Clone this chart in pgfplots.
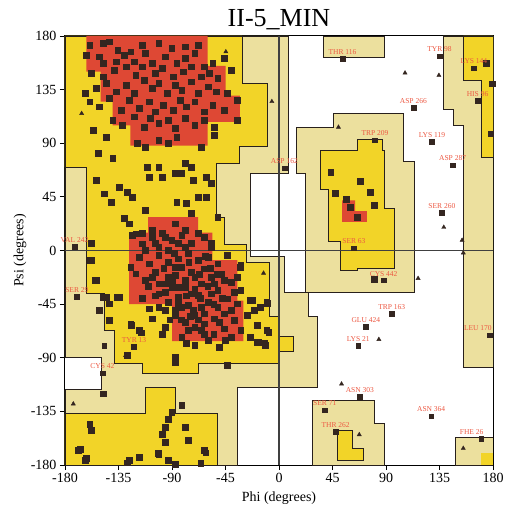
\documentclass[border=0pt]{standalone}
\usepackage{fontspec}
\setmainfont{Liberation Serif}
\usepackage{pgfplots}
\pgfplotsset{compat=1.18}
\definecolor{rcore}{RGB}{222,72,52}
\definecolor{ryel}{RGB}{242,212,40}
\definecolor{rtan}{RGB}{236,224,158}
\definecolor{dot}{RGB}{52,38,32}
\definecolor{lab}{RGB}{236,88,66}
\definecolor{edge}{RGB}{40,32,28}
\begin{document}
\begin{tikzpicture}
\path[use as bounding box, clip] (-65pt,-46pt) rectangle (442pt,465pt);
\begin{axis}[
  at={(0,0)}, anchor=south west,
  scale only axis, width=428pt, height=429pt,
  xmin=-180, xmax=180, ymin=-180, ymax=180,
  xtick={-180,-135,...,180}, ytick={-180,-135,...,180},
  tick align=outside, xtick pos=left, ytick pos=left,
  major tick length=5pt,
  tick style={black, line width=0.8pt},
  ticklabel style={font=\fontsize{14}{14}\selectfont},
  /pgf/number format/assume math mode=true,
  axis line style={black, line width=1pt},
  title={\fontsize{26}{28}\selectfont II-5\_MIN},
  title style={at={(axis description cs:0.5,1.007)}, anchor=base},
  xlabel={Phi (degrees)},
  ylabel={Psi (degrees)},
  label style={font=\fontsize{14}{14}\selectfont},
  xlabel style={at={(axis description cs:0.5,-0.077)}, anchor=center},
  ylabel style={at={(axis description cs:-0.105,0.5)}, anchor=center},
  clip=true,
]
% ---- generously allowed (tan) regions
\addplot[fill=rtan, draw=edge, line width=0.9pt] coordinates {
 (-180,180) (8,180) (8,65) (-24,65) (-24,-5) (5,-5) (5,-35) (25,-35) (25,-55) (32,-55)
 (32,-115) (-35,-115) (-35,-180) (-180,-180) (-180,-117) (-149,-117) (-149,-90) (-180,-90)} -- cycle;
\addplot[fill=rtan, draw=edge, line width=0.9pt] coordinates {
 (15,103) (46,103) (46,115) (105,115) (105,75) (114,75) (114,-35) (22,-35) (22,65) (15,65)} -- cycle;
\addplot[fill=rtan, draw=edge, line width=0.9pt] coordinates {
 (37,180) (89,180) (89,162) (37,162)} -- cycle;
\addplot[fill=rtan, draw=edge, line width=0.9pt] coordinates {
 (138,180) (180,180) (180,-98) (155,-98) (155,105) (147,105) (147,118) (138,118)} -- cycle;
\addplot[fill=rtan, draw=edge, line width=0.9pt] coordinates {
 (148,-157) (180,-157) (180,-180) (148,-180)} -- cycle;
\addplot[fill=rtan, draw=edge, line width=0.9pt] coordinates {
 (28,-126) (80,-126) (80,-145) (89,-145) (89,-180) (28,-180)} -- cycle;
% ---- allowed (yellow) regions
\addplot[fill=ryel, draw=edge, line width=0.9pt] coordinates {
 (-180,180) (-31,180) (-31,140) (-10,140) (-10,87) (-33,87) (-33,73) (-53,73) (-53,28) (-46,28)
 (-46,5) (-27,5) (-27,-10) (-8,-10) (-8,-55) (0,-55) (0,-72) (12,-72) (12,-85) (0,-85) (0,-95)
 (-68,-95) (-68,-103) (-115,-103) (-115,-95) (-138,-95) (-138,-67) (-147,-67) (-147,-36)
 (-162,-36) (-162,70) (-180,70)} -- cycle;
\addplot[fill=ryel, draw=edge, line width=0.9pt] coordinates {
 (-180,-137) (-112,-137) (-112,-115) (-87,-115) (-87,-137) (-52,-137) (-52,-180) (-180,-180)} -- cycle;
\addplot[fill=ryel, draw=edge, line width=0.9pt] coordinates {
 (66,93) (87,93) (87,84) (89,84) (89,35) (97,35) (97,-15) (66,-15) (66,-17) (52,-17) (52,8)
 (42,8) (42,51) (35,51) (35,84) (66,84)} -- cycle;
\addplot[fill=ryel, draw=edge, line width=0.9pt] coordinates {
 (155,180) (180,180) (180,78) (170,78) (170,143) (155,143)} -- cycle;
\addplot[fill=ryel, draw=edge, line width=0.9pt] coordinates {
 (49,-151) (62,-151) (62,-166) (71,-166) (71,-176) (49,-176)} -- cycle;
\addplot[fill=ryel, draw=none] coordinates {
 (170,-170) (180,-170) (180,-180) (170,-180)} -- cycle;
% ---- core (red) regions
\addplot[fill=rcore, draw=none] coordinates {
 (-162,180) (-60,180) (-60,155) (-45,155) (-45,130) (-33,130) (-33,108) (-60,108) (-60,88)
 (-125,88) (-125,105) (-140,105) (-140,125) (-150,125) (-150,150) (-162,150)} -- cycle;
\addplot[fill=rcore, draw=none] coordinates {
 (-110,28) (-68,28) (-68,15) (-56,15) (-56,-8) (-35,-8) (-35,-42) (-30,-42) (-30,-76) (-90,-76)
 (-90,-45) (-126,-45) (-126,15) (-110,15)} -- cycle;
\addplot[fill=rcore, draw=none] coordinates {
 (53,42) (64,42) (64,33) (74,33) (74,24) (53,24)} -- cycle;
% ---- zero lines
\addplot[draw=black!75, line width=1.2pt] coordinates {(-180,0) (180,0)};
\addplot[draw=black!75, line width=1.2pt] coordinates {(0,-180) (0,180)};
% ---- residues (squares)
\addplot[only marks, mark=square*, mark size=2.9pt, color=dot] coordinates {
(-159.2,172.4) (-148.1,173.8) (-142.6,175.2) (-135.7,168.2) (-124.7,166.8) (-115.0,172.4)
(-101.2,173.8) (-90.2,169.6) (-79.2,171.0) (-68.1,172.4)
(-161.9,164.0) (-150.9,162.6) (-148.1,157.0) (-137.1,158.4) (-130.2,164.0) (-121.9,158.4)
(-112.3,165.4) (-106.7,157.0) (-95.7,162.6) (-86.1,157.0) (-79.2,161.2) (-70.9,165.4)
(-62.6,154.2) (-55.7,157.0) (-46.0,161.2)
(-157.8,148.6) (-148.1,145.8) (-138.5,151.4) (-128.8,154.2) (-120.5,147.2) (-115.0,154.2)
(-104.0,148.6) (-98.5,152.8) (-88.8,145.8) (-80.5,150.0) (-73.6,154.2) (-65.4,145.8)
(-58.5,148.6) (-51.6,144.4) (-40.5,151.4)
(-163.3,131.8) (-153.7,136.0) (-145.4,140.2) (-137.1,133.2) (-128.8,138.8) (-121.9,131.8)
(-113.6,143.0) (-106.7,136.0) (-101.2,140.2) (-94.3,131.8) (-87.4,138.8) (-81.9,134.6)
(-73.6,141.6) (-68.1,131.8) (-59.8,137.4) (-52.9,133.2) (-43.3,131.8) (-35.0,126.2)
(-159.2,124.8) (-150.9,120.6) (-142.6,127.6) (-133.0,117.8) (-126.1,126.2) (-117.8,119.2)
(-109.5,124.8) (-104.0,116.4) (-97.1,122.0) (-88.8,117.8) (-83.3,126.2) (-77.8,120.6)
(-70.9,124.8) (-62.6,116.4) (-55.7,122.0) (-46.0,117.8)
(-139.9,109.4) (-131.6,105.2) (-121.9,112.2) (-113.6,103.8) (-108.1,110.8) (-101.2,106.6)
(-93.0,109.4) (-87.4,102.4) (-79.2,110.8) (-70.9,105.2) (-62.6,109.4) (-54.3,103.8) (-35.0,109.4)
(-156.4,101.0) (-145.4,95.4) (-119.2,89.8) (-112.3,87.0) (-101.2,92.6) (-93.0,89.8)
(-86.1,95.4) (-65.4,87.0) (-54.3,96.8)
(-152.3,81.4) (-139.9,77.2) (-110.9,70.2) (-101.2,70.2) (-79.2,73.0) (-73.6,70.2)
(-153.7,59.0) (-134.3,53.4) (-109.5,61.8) (-98.5,61.8) (-87.4,64.6) (-81.9,64.6)
(-72.3,59.0) (-61.2,61.8) (-57.1,56.2)
(-146.8,47.7) (-141.2,40.7) (-127.4,49.1) (-123.3,45.0) (-112.3,33.7) (-86.1,40.7)
(-77.8,39.4) (-73.6,31.0) (-68.1,45.0) (-61.2,45.0) (-51.6,28.2)
(-130.2,26.8) (-126.1,22.5) (-120.5,14.1) (-115.0,5.7) (-106.7,16.9) (-95.7,11.3)
(-87.4,22.5) (-79.2,16.9) (-73.6,5.7) (-101.2,2.9) (-62.6,11.3) (-57.1,2.9)
(-123.3,12.8) (-115.0,14.2) (-106.7,11.4) (-98.5,14.2) (-90.2,8.6) (-81.9,12.8)
(-73.6,5.8) (-68.1,14.2) (-57.2,5.8) (-79.2,3.0) (-101.2,3.0)
(-157.8,-8.2) (-124.7,-13.8) (-117.8,-5.4) (-109.5,-11.0) (-101.2,-4.0) (-93.0,-9.6)
(-84.7,-6.8) (-76.5,-2.6) (-68.1,-8.2) (-59.8,-5.4) (-51.6,-11.0) (-43.3,-4.0) (-32.2,-12.4)
(-87.4,-13.8) (-62.6,-15.2)
(-120.5,-19.4) (-112.3,-25.0) (-104.0,-18.0) (-95.7,-27.8) (-87.4,-20.8) (-79.2,-25.0)
(-73.6,-18.0) (-65.4,-27.8) (-57.2,-22.2) (-48.8,-19.4) (-40.5,-26.4) (-79.2,-30.6)
(-70.9,-32.0) (-153.7,-25.0)
(-148.1,-39.0) (-134.3,-39.0) (-109.5,-48.8) (-101.2,-36.2) (-93.0,-43.2) (-84.7,-39.0)
(-76.5,-46.0) (-68.1,-37.6) (-59.8,-43.2) (-51.6,-47.4) (-43.3,-40.4) (-35.0,-44.6)
(-24.1,-41.8) (-15.8,-47.4) (-10.3,-43.2) (-142.6,-44.6)
(-142.6,-58.6) (-124.7,-61.4) (-117.8,-67.0) (-106.7,-57.2) (-95.7,-64.2) (-87.4,-54.4)
(-79.2,-60.0) (-70.9,-54.4) (-62.6,-61.4) (-54.3,-57.2) (-46.0,-65.6) (-37.8,-58.6)
(-26.8,-54.4) (-18.6,-62.8) (-10.3,-67.0) (-65.4,-67.0) (-32.2,-67.0)
(-81.9,-72.6) (-70.9,-79.6) (-59.8,-75.4) (-50.2,-81.0) (-40.5,-72.6) (-24.1,-72.6)
(-11.7,-79.6) (-127.4,-88.0) (-18.6,-76.8) (-87.4,-89.4) (-87.4,-93.6) (-43.3,-96.4)
(-148.1,-120.2)
(-90.2,-135.7) (-93.0,-141.3) (-81.9,-130.1) (-95.7,-148.3) (-79.2,-148.3) (-98.5,-153.9)
(-95.7,-160.9) (-76.5,-159.5) (-101.2,-170.7) (-62.6,-167.9) (-117.8,-173.5) (-126.1,-176.3)
(-93.0,-176.3) (-87.4,-179.1) (-167.5,-166.5) (-159.2,-145.5) (-157.8,-151.1) (-163.3,-176.3)
(-169.0,-167.9) (-162.0,-174.6) (-127.9,-178.0) (-101.4,-170.4) (-65.8,-178.8) (-61.7,-169.6)
(-90.2,-30.6) (-84.7,-30.6) (-73.6,-36.2) (-65.4,-47.4) (-57.2,-36.2) (-54.3,-27.8)
(-46.0,-53.0) (-81.9,-47.4) (-87.4,-50.2) (-95.7,-50.2) (-101.2,-47.4) (-70.9,-64.2)
(-76.5,-67.0) (-62.6,-53.0) (-51.6,-33.4) (-40.5,-50.2) (-32.2,-33.4) (-46.0,-25.0)
(-35.0,-22.2) (-70.9,-22.2) (-81.9,-13.8) (-93.0,-22.2) (-101.2,-27.8) (-106.7,-22.2)
(-112.3,0.2) (-104.0,5.8) (-93.0,0.2) (-84.7,5.8)
(-97,-15) (-90,-25) (-85,-45) (-78,-38) (-72,-50) (-66,-40) (-60,-30) (-55,-45) (-50,-60)
(-75,-55) (-68,-58) (-82,-58) (-92,-58) (-63,-70) (-55,-70) (-48,-40) (-58,-15) (-67,-20)
(-76,-10) (-88,-2) (-96,-35) (-104,-38) (-110,-30) (-115,-40) (-98,-70) (-78,-78) (-45,-75)
(-38,-35) (-62,-5) (-52,-20)
(-157.7,6) (-159,-8) (-155,-25) (-145,-39) (-136,-39) (-151,-50) (-124,-63) (-116,-69)
(-32.7,-14) (-22.8,-41.8) (-21,-50) (-10,-44) (-8.7,-68.7) (-12,-78) (-17,-77)
(43.5,65.7) (68,58) (47.6,48) (56.7,43) (76.6,49) (80,38) (60,36) (66,28) (80,-24)
(174,157) (179,140) (178,98)
};
% ---- glycines (triangles)
\addplot[only marks, mark=triangle*, mark size=2.4pt, color=dot] coordinates {
(106,149) (134.5,147) (117,-23.4) (154,8.6) (84,-74.6) (52.6,-112) (67.5,-154.5) (155,-166)
(138.6,19.5) (-44.7,166.8) (-6,125) (-166,115) (-13,-19) (-173,-128.7) (50,103.5) (-129,-88)
(155,-2)
};
% ---- labelled residues
\addplot[only marks, mark=square*, mark size=2.4pt, color=dot,
  nodes near coords, point meta=explicit symbolic,
  every node near coord/.style={font=\fontsize{7.5}{8}\selectfont, text=lab,
    anchor=south, inner sep=0.5pt, yshift=3.5pt}] coordinates {
(53.4,160.7) [THR 116]
(135,163) [TYR 98]
(164,153) [LYS 144]
(167,126) [HIS 96]
(113,120) [ASP 266]
(80.7,92.6) [TRP 209]
(128.7,91) [LYS 119]
(146,71.6) [ASP 287]
(137,32) [SER 260]
(4.5,69) [ASP 162]
(63,2) [SER 63]
(88,-25) [CYS 442]
(94.8,-52.8) [TRP 163]
(73,-63.7) [GLU 424]
(66.6,-79.7) [LYS 21]
(68,-123) [ASN 303]
(38.5,-134) [SER 71]
(47.6,-152) [THR 262]
(128,-139) [ASN 364]
(-172,3.5) [VAL 242]
(-170,-38.5) [SER 29]
(-122,-81) [TYR 13]
(-147,-79.6) []
(-148.5,-103) [CYS 42]
};
\addplot[only marks, mark=square*, mark size=2.4pt, color=dot,
  nodes near coords, point meta=explicit symbolic,
  every node near coord/.style={font=\fontsize{7.5}{8}\selectfont, text=lab,
    anchor=south east, inner sep=0.5pt, yshift=3.5pt, xshift=3pt}] coordinates {
(170,-158) [FHE 26]
(177,-71) [LEU 170]
};
\end{axis}
\end{tikzpicture}
\end{document}
